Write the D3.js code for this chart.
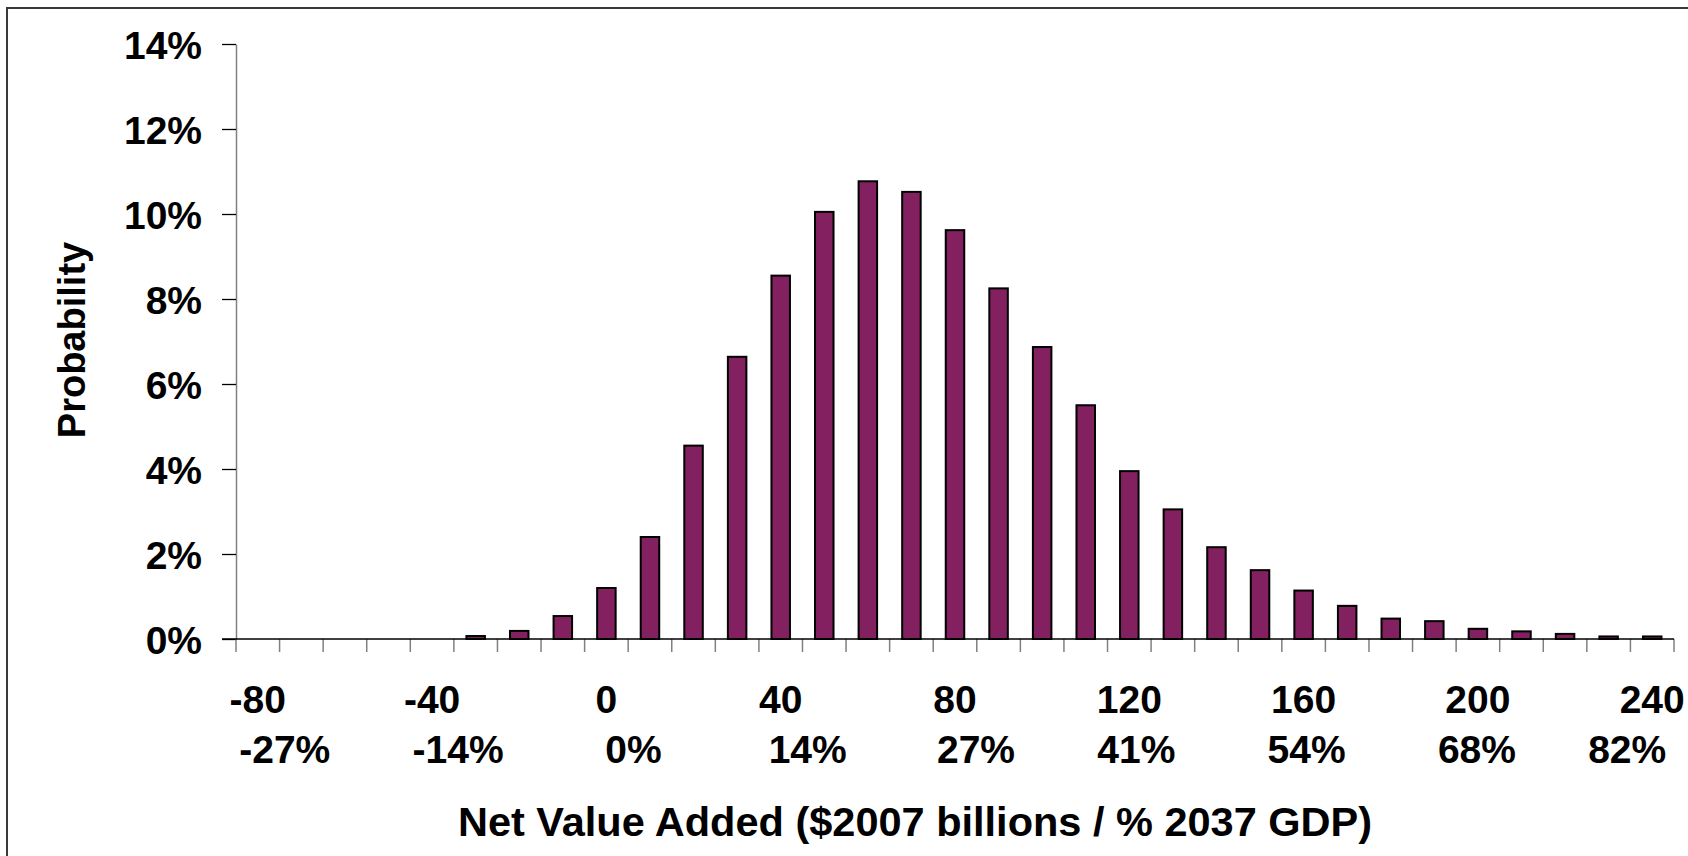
<!DOCTYPE html>
<html>
<head>
<meta charset="utf-8">
<script src="https://cdn.jsdelivr.net/npm/d3@7"></script>
<style>
  html, body { margin: 0; padding: 0; background: #fff; }
  svg { display: block; }
  text { font-family: "Liberation Sans", Arial, sans-serif; font-weight: bold; fill: #000; }
</style>
</head>
<body>
<svg id="chart" width="1688" height="856"></svg>
<script>
// ---------------------------------------------------------------------------
// Data
// ---------------------------------------------------------------------------
const categories = [-80, -70, -60, -50, -40, -30, -20, -10, 0, 10, 20, 30, 40, 50, 60, 70,
    80, 90, 100, 110, 120, 130, 140, 150, 160, 170, 180, 190, 200, 210, 220, 230, 240];

// probability in percent for each bin
const probability = [0, 0, 0, 0, 0, 0.07, 0.19, 0.54, 1.2, 2.4, 4.55, 6.64, 8.55, 10.05, 10.77, 10.52,
    9.62, 8.25, 6.87, 5.5, 3.95, 3.05, 2.16, 1.62, 1.14, 0.78, 0.48, 0.42, 0.24, 0.18, 0.12, 0.06, 0.06];

const yTicks = [0, 2, 4, 6, 8, 10, 12, 14];
const xLabelValues = [-80, -40, 0, 40, 80, 120, 160, 200, 240];
const gdpLabels = ["-27%", "-14%", "0%", "14%", "27%", "41%", "54%", "68%", "82%"];

// the GDP row in the original sits a little off the number row
const gdpShift = [27, 26, 27, 27, 21, 7, 3, -1, -25];

// ---------------------------------------------------------------------------
// Layout
// ---------------------------------------------------------------------------
const svg = d3.select("#chart");
const plot = { left: 236, right: 1674, top: 44, bottom: 639 };
const barColor = "#822060";
const fontSize = 39;

// chart frame
svg.append("rect")
    .attr("x", 7).attr("y", 8)
    .attr("width", 1700).attr("height", 900)
    .attr("fill", "none")
    .attr("stroke", "#3a3a3a")
    .attr("stroke-width", 2);

const x = d3.scaleBand()
    .domain(categories)
    .range([plot.left, plot.right])
    .paddingInner(0)
    .paddingOuter(0);

const y = d3.scaleLinear()
    .domain([0, 14])
    .range([plot.bottom, plot.top]);

const barW = 18.5;

// y axis
const yAxis = d3.axisLeft(y)
    .tickValues(yTicks)
    .tickSize(14)
    .tickSizeOuter(0)
    .tickFormat(d => d + "%");

const gy = svg.append("g")
    .attr("transform", `translate(${plot.left},0)`)
    .call(yAxis);
gy.select(".domain").attr("stroke", "#808080").attr("stroke-width", 1.5);
gy.selectAll(".tick line").attr("stroke", "#000").attr("stroke-width", 1.3);
gy.selectAll(".tick text")
    .attr("x", -34)
    .attr("dy", "0.36em")
    .style("font-size", fontSize + "px")
    .style("font-family", "'Liberation Sans', Arial, sans-serif")
    .style("font-weight", "bold");

// bars
svg.append("g")
    .selectAll("rect")
    .data(categories.map((c, i) => ({ c, p: probability[i] })).filter(d => d.p > 0))
    .join("rect")
    .attr("x", d => x(d.c) + (x.bandwidth() - barW) / 2)
    .attr("y", d => y(d.p))
    .attr("width", barW)
    .attr("height", d => y(0) - y(d.p))
    .attr("fill", barColor)
    .attr("stroke", "#000")
    .attr("stroke-width", 2);

// x axis: ticks at the bin boundaries
const boundaries = categories.map(c => x(c)).concat([plot.right]);
const gx = svg.append("g");
gx.selectAll("line.tick")
    .data(boundaries)
    .join("line")
    .attr("class", "tick")
    .attr("x1", d => d).attr("x2", d => d)
    .attr("y1", plot.bottom).attr("y2", plot.bottom + 13)
    .attr("stroke", "#808080")
    .attr("stroke-width", 1.5);
gx.append("line")
    .attr("x1", plot.left - 14).attr("x2", plot.right)
    .attr("y1", plot.bottom).attr("y2", plot.bottom)
    .attr("stroke", "#000")
    .attr("stroke-width", 1.5);

// x labels: $ billions row and % GDP row
const center = v => x(v) + x.bandwidth() / 2;
svg.append("g")
    .selectAll("text")
    .data(xLabelValues)
    .join("text")
    .attr("x", d => center(d))
    .attr("y", 713)
    .attr("text-anchor", "middle")
    .style("font-size", fontSize + "px")
    .text(d => d);

svg.append("g")
    .selectAll("text")
    .data(gdpLabels)
    .join("text")
    .attr("x", (d, i) => center(xLabelValues[i]) + gdpShift[i])
    .attr("y", 763)
    .attr("text-anchor", "middle")
    .style("font-size", fontSize + "px")
    .text(d => d);

// axis titles
svg.append("text")
    .attr("x", 915)
    .attr("y", 836)
    .attr("text-anchor", "middle")
    .style("font-size", "41.5px")
    .text("Net Value Added ($2007 billions / % 2037 GDP)");

svg.append("text")
    .attr("transform", "translate(85,340) rotate(-90)")
    .attr("text-anchor", "middle")
    .style("font-size", "38px")
    .text("Probability");
</script>
</body>
</html>
